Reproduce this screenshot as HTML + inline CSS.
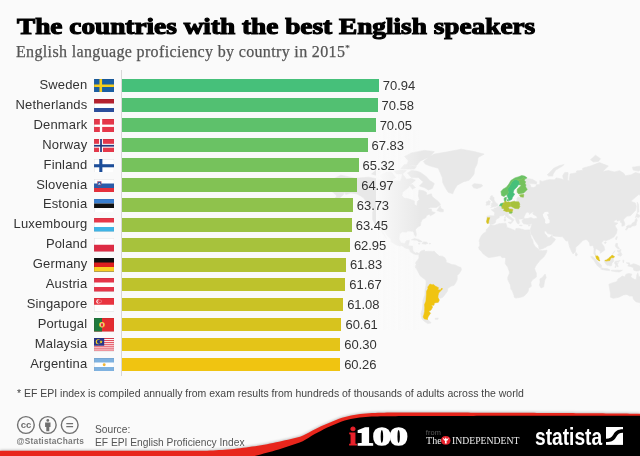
<!DOCTYPE html>
<html><head><meta charset="utf-8"><title>The countries with the best English speakers</title>
<style>
html,body{margin:0;padding:0;}
body{width:640px;height:456px;position:relative;overflow:hidden;background:#fafafa;font-family:"Liberation Sans",sans-serif;}
.title{position:absolute;left:17px;top:12.4px;font-family:"Liberation Serif",serif;font-weight:bold;font-size:22.4px;line-height:30px;color:#000;white-space:nowrap;-webkit-text-stroke:1.1px #000;transform-origin:0 0;transform:scaleX(1.218);}
.sub{position:absolute;-webkit-text-stroke:0.25px #555;left:16px;top:38px;letter-spacing:0.35px;font-family:"Liberation Serif",serif;font-size:16px;line-height:20px;color:#555;white-space:nowrap;transform-origin:0 0;}
.lab{position:absolute;left:0;width:87.3px;letter-spacing:0.15px;text-align:right;font-size:13px;line-height:18px;color:#333;white-space:nowrap;}
.val{position:absolute;letter-spacing:-0.05px;font-size:13px;line-height:18px;color:#333;white-space:nowrap;}
.bar{position:absolute;left:122.0px;height:13.7px;}
.flag{position:absolute;left:93.8px;}
.axis{position:absolute;left:120.7px;top:70px;width:1px;height:306px;background:#d8d8d8;}
.note{position:absolute;left:17px;top:386.1px;font-size:11.6px;line-height:14px;color:#444;white-space:nowrap;transform-origin:0 0;transform:scaleX(0.904);}
.i100{position:absolute;left:349.0px;top:422.1px;font-family:"Liberation Serif",serif;font-weight:bold;font-size:24.4px;line-height:30px;color:#fff;white-space:nowrap;-webkit-text-stroke:0.8px currentColor;transform-origin:0 0;transform:scaleX(1.46);letter-spacing:-0.6px;}
.i100 span{-webkit-text-stroke:1px #e8212b;}
.statista{position:absolute;left:535.2px;top:422.6px;font-weight:bold;font-size:23.5px;line-height:28px;color:#fff;white-space:nowrap;transform-origin:0 0;transform:scaleX(0.815);}
.wrap{position:absolute;left:0;top:0;width:640px;height:456px;will-change:transform;}
</style></head><body><div class="wrap">
<svg class="map" style="position:absolute;left:0;top:0" width="640" height="456" viewBox="0 0 640 456">
<defs><linearGradient id="fade" x1="0" x2="1" y1="0" y2="0"><stop offset="0" stop-color="#fafafa" stop-opacity="1"/><stop offset="1" stop-color="#fafafa" stop-opacity="0"/></linearGradient></defs>
<path d="M423.4 161.5L428.3 157.5L434.3 154.1L446.2 152.1L461.2 149.2L474.1 151.6L484.1 154.1L478.1 157.5L477.1 164.1L474.6 169.1L474.1 173.9L472.1 176.7L469.1 180.2L463.2 181.9L457.2 185.2L454.2 190.0L452.7 193.8L448.2 192.3L445.3 187.6L442.8 182.7L442.3 177.6L438.3 168.2L430.3 166.1L425.4 164.1ZM472.1 185.2L474.1 183.7L478.1 184.1L481.6 184.4L482.6 186.0L481.1 187.1L477.1 188.6L473.6 187.8ZM416.4 171.1L420.4 172.4L426.4 176.7L429.3 180.2L434.3 183.6L432.3 188.4L428.3 190.0L424.4 187.6L419.4 186.0L423.4 181.9L418.4 177.6L411.4 177.6L407.4 173.0L411.4 170.5ZM406.4 165.1L416.4 165.5L420.4 160.9L430.3 156.4L434.3 151.6L424.4 150.4L411.4 152.9L404.5 156.4L408.4 160.9ZM379.6 175.8L386.6 172.0L391.5 172.0L395.5 177.6L391.5 180.2L383.6 180.2ZM371.6 173.9L376.6 169.5L380.6 172.0L376.6 175.4ZM400.5 169.1L414.4 169.1L416.4 166.5L404.5 164.5ZM396.5 173.9L402.5 173.9L406.4 170.5L400.5 170.1L394.5 171.1ZM380.6 168.2L388.5 168.2L391.5 166.1L386.6 165.1L379.6 166.1ZM409.4 185.2L412.4 189.2L415.4 187.6L412.4 184.4ZM437.0 210.6L440.3 205.7L440.8 208.3L443.3 209.6L443.3 211.8L440.3 211.7ZM411.4 239.8L414.4 238.5L418.4 239.4L422.2 241.6L418.9 241.9L416.9 240.2L412.4 240.0ZM421.9 243.5L423.6 241.9L426.4 242.1L427.9 243.3L425.4 244.2ZM418.1 243.5L420.1 243.6L419.4 244.1ZM429.1 243.4L430.6 243.5L430.3 244.0L429.1 243.9ZM328.8 185.2L330.8 180.2L340.8 175.2L355.7 178.3L368.6 177.2L379.6 179.3L388.5 181.0L400.5 181.0L402.5 173.9L406.4 179.3L411.4 178.4L415.4 180.2L410.4 184.4L408.4 187.6L402.5 192.3L402.0 195.7L404.0 198.1L408.4 198.8L414.4 200.9L414.4 204.3L416.9 206.1L417.4 201.6L419.4 199.5L418.4 196.0L418.9 190.0L423.4 190.7L426.4 192.3L426.8 195.2L431.3 193.8L432.3 196.7L434.8 198.8L438.3 201.6L440.5 204.3L439.3 205.7L436.3 207.4L430.3 207.4L427.8 208.9L431.3 208.9L431.8 211.5L435.3 212.7L432.8 214.4L430.3 215.8L429.3 214.0L426.4 215.8L425.9 217.6L422.4 219.4L420.9 222.3L420.4 225.7L417.9 227.0L415.4 229.6L416.4 234.5L415.9 236.4L414.4 235.0L413.7 232.3L412.4 231.2L407.4 231.0L406.4 232.3L402.5 231.8L399.5 233.9L399.0 239.2L401.0 243.1L405.0 243.4L406.0 240.8L409.4 240.3L408.4 245.9L412.4 246.1L413.1 251.0L415.4 253.0L416.9 252.5L419.1 253.5L418.4 254.5L416.4 254.7L413.4 253.7L410.6 252.0L408.9 249.0L405.0 248.0L402.0 245.7L399.5 246.1L395.5 244.6L391.0 241.8L391.0 239.2L387.5 236.1L384.1 231.2L381.9 229.6L384.6 234.5L386.6 238.7L384.6 236.6L381.6 231.8L379.6 228.5L376.1 226.3L374.6 223.4L372.6 219.6L372.6 212.7L373.6 209.6L371.6 207.6L368.6 205.0L366.2 201.6L363.7 198.1L360.7 196.0L356.7 193.8L350.7 193.0L345.8 194.5L344.8 192.3L342.8 195.2L338.8 198.8L332.8 201.3L336.8 196.0L334.8 193.8L330.8 190.7L332.3 188.9L335.8 186.8L330.3 186.5ZM419.1 253.5L420.9 251.2L424.4 250.0L424.9 251.5L428.3 251.3L432.3 251.4L434.3 251.3L436.3 253.5L439.3 256.0L442.3 256.2L444.8 257.7L446.2 260.5L446.2 262.5L448.2 263.0L451.7 264.5L455.2 264.9L458.7 266.8L461.0 267.5L461.4 270.0L459.2 273.5L457.2 275.5L457.2 279.6L455.7 282.7L454.2 285.2L451.2 286.1L447.7 288.5L447.5 291.1L444.3 295.5L442.8 297.2L440.3 298.2L437.9 297.2L439.3 300.0L438.3 302.3L434.3 302.9L434.0 305.2L431.3 305.2L432.6 307.0L431.0 310.0L428.8 311.3L430.5 313.2L428.3 316.4L427.3 319.0L427.9 319.5L431.1 322.9L427.7 323.6L424.9 321.7L421.9 319.0L420.9 313.8L422.4 308.8L422.9 304.0L422.9 300.6L424.9 295.0L425.0 290.6L426.0 285.3L426.1 280.6L424.4 279.1L420.4 276.0L418.9 273.5L416.9 269.5L415.1 267.0L416.1 264.5L415.5 263.0L416.4 261.2L417.6 260.2L418.9 258.0L418.9 255.0ZM490.1 224.8L494.0 225.5L499.0 223.7L505.9 223.2L506.9 226.8L505.9 227.0L510.9 228.7L515.4 230.7L515.9 228.5L518.9 228.4L524.9 230.1L528.3 229.9L530.0 229.9L529.8 231.8L531.3 237.7L533.0 240.8L533.3 243.4L535.3 246.7L538.8 249.5L539.1 250.5L542.8 250.8L546.9 250.2L546.5 252.5L543.8 257.0L539.8 260.5L537.3 263.8L535.3 266.7L534.6 268.5L535.3 271.0L536.3 273.0L536.4 277.0L532.8 279.6L530.8 282.2L531.3 286.3L528.6 288.5L528.3 291.1L526.3 293.9L523.4 296.6L520.9 297.2L515.9 298.1L514.2 297.2L513.9 295.0L512.4 291.1L510.9 289.0L510.4 284.8L507.9 280.1L507.7 277.5L509.6 273.0L508.9 270.5L507.9 267.5L505.2 263.5L505.5 261.0L505.7 258.5L504.5 257.5L502.0 257.7L500.5 255.7L497.0 256.2L493.0 257.0L488.5 257.6L485.1 255.3L482.8 253.5L481.1 251.0L479.3 249.5L478.6 247.3L479.8 245.4L479.6 242.4L479.1 240.8L480.3 237.7L481.6 235.3L483.2 233.5L486.1 231.8L486.3 229.6L489.0 227.0ZM545.1 274.0L546.2 277.5L544.8 280.1L543.6 286.9L541.0 287.9L539.4 285.3L540.1 282.2L539.8 279.1L542.3 277.5ZM487.1 223.4L486.5 221.5L487.2 218.8L486.8 216.4L490.0 215.7L494.2 215.9L494.8 212.7L491.3 209.7L494.5 209.3L494.2 208.0L496.2 208.0L497.7 206.5L499.5 205.7L500.5 203.7L503.0 202.9L504.7 202.4L504.2 200.2L504.2 198.1L506.4 197.1L506.2 199.5L505.7 200.9L506.9 202.3L508.4 201.8L510.1 202.3L514.4 201.2L515.7 201.8L516.9 200.2L516.9 198.1L518.4 197.1L520.2 197.8L520.3 196.1L519.4 195.0L521.9 194.4L523.9 194.5L526.0 193.8L524.4 193.0L520.9 193.5L518.7 193.9L517.2 192.3L517.2 189.2L520.4 186.3L521.2 185.2L518.4 184.7L517.2 186.8L513.9 190.0L513.1 192.7L514.7 194.1L512.4 197.4L511.9 199.3L510.2 200.2L508.8 200.4L508.6 199.1L507.1 196.0L506.4 194.5L504.0 196.6L501.6 195.4L501.0 191.5L503.0 189.2L506.4 187.3L508.9 184.1L510.9 180.5L514.9 177.9L518.9 176.7L521.7 175.6L524.4 176.1L526.8 177.6L526.6 178.3L528.8 178.8L532.3 179.3L536.8 181.9L536.3 183.9L530.8 183.6L528.8 183.2L530.5 185.2L530.6 187.0L533.3 187.6L535.8 186.7L536.3 184.7L539.8 184.4L539.8 180.5L542.3 181.4L548.7 179.7L554.7 179.8L556.2 177.9L561.7 179.0L563.7 180.2L562.7 175.8L564.7 172.4L568.1 172.6L567.6 180.2L569.1 181.0L570.1 173.9L572.6 173.5L576.1 173.0L576.6 170.9L582.6 170.3L582.6 168.2L590.5 166.1L599.5 162.6L608.4 166.1L602.5 171.5L608.4 170.5L614.4 172.0L619.4 170.7L623.4 173.0L625.4 175.8L631.3 174.8L635.3 172.6L645.2 174.8L655.2 178.1L657.2 178.3L665.1 177.9L666.1 177.6L675.1 179.3L675.1 186.0L673.6 186.8L672.1 190.0L665.6 193.8L659.2 194.1L658.2 196.7L657.2 201.2L652.2 206.3L651.2 203.0L650.7 198.1L655.2 193.0L658.2 190.0L654.2 191.2L650.2 194.8L646.2 194.5L638.3 194.8L630.8 201.3L635.3 203.0L636.3 206.3L635.6 210.2L633.3 212.7L630.3 215.8L627.3 216.1L625.4 217.6L623.4 220.0L624.8 223.4L624.4 225.5L621.9 226.3L621.9 222.9L620.4 222.3L620.4 220.3L616.9 221.1L617.2 218.9L614.4 220.9L613.4 222.3L617.9 223.1L614.9 225.7L617.2 229.6L616.4 233.4L613.9 237.0L609.4 239.4L605.5 240.8L604.0 240.1L601.5 242.9L604.0 246.5L604.8 250.0L602.0 252.0L600.3 253.3L600.5 251.5L598.0 249.7L596.0 248.5L595.0 252.0L596.0 255.0L599.0 258.0L599.7 260.6L598.9 260.7L596.5 259.0L595.8 256.0L593.8 253.7L594.1 249.0L593.0 245.4L590.0 245.9L589.5 242.9L587.5 240.3L586.0 239.4L582.6 240.5L581.6 241.8L578.1 245.4L575.8 247.0L575.6 250.0L575.3 251.7L573.1 254.0L571.6 251.5L569.6 247.0L568.6 242.9L568.2 240.8L566.1 241.0L564.7 239.3L562.7 236.8L557.7 236.4L553.2 236.0L552.2 234.5L547.7 233.6L545.8 231.0L544.3 231.2L544.5 233.1L545.8 235.0L547.0 235.8L547.3 237.4L549.7 237.4L552.0 235.3L552.3 237.1L555.5 239.2L554.2 241.3L550.7 244.9L547.7 245.9L544.3 248.0L540.8 249.2L539.1 249.4L538.5 245.6L534.8 240.3L532.8 236.6L530.8 233.4L530.6 231.8L530.0 229.9L530.8 227.9L531.8 224.6L532.0 223.8L528.8 224.5L526.3 224.2L523.9 223.8L523.2 223.4L522.2 221.7L522.1 220.5L522.9 219.5L524.9 218.7L527.3 218.5L530.8 217.6L533.8 218.8L537.3 218.2L536.8 216.4L532.8 214.0L533.8 211.5L530.8 213.1L529.3 214.4L529.4 212.7L526.8 212.0L525.6 213.7L523.9 217.0L524.4 218.5L522.2 218.9L519.9 219.1L518.7 219.6L519.4 222.3L518.9 224.0L517.4 223.4L515.9 220.5L515.2 217.8L512.9 216.4L510.9 214.6L509.5 213.2L508.2 213.6L508.4 215.2L511.4 217.6L514.3 219.7L512.9 221.1L512.4 222.3L511.6 222.3L511.9 220.2L508.4 218.2L506.4 216.4L504.8 214.7L503.0 215.7L499.2 216.1L499.2 217.7L496.5 219.1L495.7 220.8L495.5 222.3L494.0 223.8L490.7 224.5L489.7 223.7L488.5 223.2ZM490.5 207.6L493.0 206.9L497.3 206.1L497.7 204.1L496.0 203.0L494.5 200.9L494.0 199.5L494.0 197.3L492.0 197.1L492.8 195.8L491.0 195.8L489.8 198.8L491.0 200.2L492.5 201.2L493.0 203.0L491.5 203.4L491.8 204.7L490.8 205.3L492.5 205.8ZM486.1 205.3L489.7 204.7L490.0 202.3L490.5 201.5L488.7 200.5L487.5 201.6L486.1 202.0L486.5 203.7ZM504.3 221.1L505.7 220.9L505.6 218.8L504.2 218.9ZM504.7 218.2L505.5 217.6L505.4 216.4L504.6 217.0ZM508.4 222.3L511.4 222.0L511.0 223.8L508.4 222.7ZM519.5 225.1L522.2 225.4L522.1 225.8L519.5 225.6ZM528.1 225.7L530.3 225.0L529.6 226.0ZM506.9 199.8L508.4 199.5L508.4 200.9L507.1 200.7ZM625.4 229.8L627.1 227.4L626.1 226.9L627.8 225.4L631.3 224.9L632.3 223.1L634.8 221.7L635.3 219.4L636.6 218.3L637.2 220.5L636.3 222.9L636.1 225.1L635.0 225.7L632.3 226.1L630.8 227.4L628.3 227.4L626.8 229.8ZM635.3 217.8L636.8 213.5L640.6 215.8L638.6 217.6L636.3 217.0ZM637.3 212.7L637.3 202.3L638.5 204.3L638.6 208.3L638.8 211.8ZM615.6 238.7L616.9 236.4L617.3 237.1L616.2 239.8ZM604.2 242.6L605.9 241.8L606.4 242.4L605.0 243.7ZM575.4 254.0L575.9 252.3L577.4 254.5L576.6 255.9L575.6 255.8ZM615.9 243.4L617.6 243.5L617.4 245.9L619.4 248.2L619.2 249.2L617.2 248.2L616.2 247.5L615.4 245.9ZM617.4 255.0L618.9 253.4L620.9 252.3L621.9 254.5L620.9 256.2L619.4 255.7ZM617.4 250.2L618.6 250.5L620.9 249.5L620.7 251.5L618.9 252.5L617.6 251.7ZM612.7 253.5L614.9 250.7L615.0 251.2L613.0 253.6ZM590.8 256.4L593.0 256.8L596.0 259.7L599.0 262.8L601.5 265.2L601.3 267.8L600.0 267.8L597.5 265.8L595.5 263.0L594.0 260.2L591.5 258.0ZM600.7 268.8L602.0 268.0L604.0 268.6L606.4 268.5L608.4 269.0L609.9 269.8L609.7 270.6L606.4 270.3L603.5 269.8L601.9 269.4ZM604.5 260.2L606.4 260.5L606.8 259.5L608.4 258.7L609.4 257.4L610.9 256.5L612.1 255.0L613.1 255.7L614.6 256.8L613.4 257.7L613.1 259.0L613.9 261.0L612.9 262.0L611.9 263.5L611.7 265.5L609.9 266.0L608.4 265.2L606.9 265.3L605.5 263.5L604.5 262.0ZM614.9 267.5L615.9 265.0L614.4 263.0L615.4 261.2L617.4 261.0L620.2 260.5L618.4 261.7L616.2 262.0L616.9 263.0L618.6 262.8L617.2 264.0L617.9 265.5L618.2 266.8L616.9 266.5L616.4 264.8L615.7 267.5ZM626.3 262.8L629.3 262.8L630.3 265.3L633.3 263.7L636.3 264.6L640.3 266.3L642.8 268.0L641.3 268.8L643.3 270.0L645.7 272.5L642.8 272.0L640.3 269.8L638.3 271.0L636.3 271.0L633.8 270.2L633.3 267.5L630.3 266.4L627.8 266.0L628.8 264.3ZM611.4 270.4L614.4 270.2L618.4 270.3L620.4 270.3L622.4 270.3L619.4 272.0L615.4 271.6L611.4 270.9ZM622.9 260.0L623.9 260.5L623.4 262.8L622.9 261.5ZM608.9 284.2L609.6 288.5L610.4 292.8L610.4 297.2L613.4 298.3L618.9 297.2L623.4 295.0L626.8 294.4L629.8 296.1L632.8 296.1L633.3 298.9L635.8 301.7L638.8 302.6L641.8 302.9L645.2 301.1L646.4 297.2L648.2 292.8L648.4 288.5L646.2 285.8L644.3 282.7L641.6 281.1L640.8 277.0L638.8 276.5L637.8 272.8L636.8 275.0L636.3 279.6L634.8 279.6L632.3 278.1L630.8 276.8L631.8 274.0L628.3 273.5L625.8 274.5L624.9 277.0L622.4 276.0L620.4 277.5L617.9 279.1L616.9 281.6L612.4 282.9ZM640.3 305.0L643.3 305.1L643.3 307.6L641.8 308.2L640.5 306.8ZM547.2 174.8L550.7 171.5L553.7 168.2L559.7 165.5L564.2 164.5L561.7 166.5L555.7 170.1L553.2 173.9L552.7 176.1L548.7 176.1ZM590.5 159.8L595.5 155.2L600.5 158.7L598.5 161.3L593.5 162.0ZM632.3 167.2L640.3 166.1L645.2 167.8L638.3 171.1L633.3 170.1ZM435.3 318.3L438.3 318.1L437.8 319.3L435.3 319.3Z" fill="#e8e8e8" stroke="#e8e8e8" stroke-width="0.6" stroke-linejoin="round"/>
<path d="M544.8 212.1L548.2 211.7L548.7 214.0L546.7 214.6L548.5 217.0L548.2 218.8L549.7 220.0L549.5 223.1L546.7 223.7L545.0 222.9L545.3 220.0L543.3 216.6L542.8 214.6Z" fill="#fafafa"/>
<path d="M507.0 195.2L507.4 196.4L508.6 199.3L508.8 200.4L510.2 200.2L511.9 199.3L512.4 197.4L514.7 194.1L513.1 192.7L513.9 190.0L517.2 186.8L518.4 184.7L520.0 184.7L519.4 181.4L516.4 179.3L513.9 180.2L511.9 181.9L510.4 184.4L509.4 186.8L507.9 188.4L508.1 191.5L508.6 192.3L507.7 194.1Z" fill="#46c07a" stroke="#46c07a" stroke-width="0.5" stroke-linejoin="round"/>
<path d="M504.0 196.6L501.6 195.4L501.0 191.5L503.0 189.2L506.4 187.3L508.9 184.1L510.9 180.5L514.9 177.9L518.9 176.7L521.7 175.6L524.4 176.1L526.8 177.6L526.6 178.3L524.9 179.0L523.4 177.6L521.4 179.3L519.4 179.7L516.9 179.1L516.4 179.3L513.9 180.2L511.9 181.9L510.4 184.4L509.4 186.8L507.9 188.4L508.1 191.5L508.6 192.3L507.7 194.1L507.0 195.2L506.4 194.5Z" fill="#6ac264" stroke="#6ac264" stroke-width="0.5" stroke-linejoin="round"/>
<path d="M517.2 192.3L517.2 189.2L520.4 186.3L521.2 185.2L520.0 184.7L519.4 181.4L516.4 179.3L516.9 179.1L519.4 179.7L521.4 179.3L523.4 177.6L524.9 179.0L524.4 180.7L525.9 181.9L524.9 183.1L525.9 184.9L525.6 186.8L527.3 189.5L523.7 193.0L520.9 193.5L518.7 193.9Z" fill="#76c25c" stroke="#76c25c" stroke-width="0.5" stroke-linejoin="round"/>
<path d="M504.2 200.2L504.2 198.1L506.4 197.1L506.2 199.5L505.7 200.9L504.7 201.1ZM506.9 199.8L508.4 199.5L508.4 200.9L507.1 200.7Z" fill="#5ec16b" stroke="#5ec16b" stroke-width="0.5" stroke-linejoin="round"/>
<path d="M499.5 205.8L500.5 203.7L503.0 203.0L503.2 204.6L502.0 205.3L502.0 206.6L501.0 205.8Z" fill="#52c072" stroke="#52c072" stroke-width="0.5" stroke-linejoin="round"/>
<path d="M503.0 203.0L504.7 202.4L504.7 201.1L505.7 200.9L506.9 202.3L508.4 201.8L510.1 202.3L510.6 204.3L510.9 206.3L508.1 207.2L509.7 209.3L508.9 210.8L506.1 211.1L503.6 210.7L504.2 208.9L502.4 208.3L502.0 206.6L502.0 205.3L503.2 204.6Z" fill="#b2c234" stroke="#b2c234" stroke-width="0.5" stroke-linejoin="round"/>
<path d="M510.1 202.3L514.4 201.2L515.7 201.8L518.7 201.8L519.8 204.1L519.5 205.7L519.9 206.6L518.6 208.8L514.9 208.4L510.9 206.3L510.6 204.3Z" fill="#a7c23c" stroke="#a7c23c" stroke-width="0.5" stroke-linejoin="round"/>
<path d="M505.6 210.8L506.1 211.1L508.9 210.8L509.7 209.3L510.9 208.9L512.9 209.4L512.4 211.5L511.9 211.8L509.6 212.1L508.1 211.5L506.3 211.6L505.6 211.3Z" fill="#bec22c" stroke="#bec22c" stroke-width="0.5" stroke-linejoin="round"/>
<path d="M509.6 212.1L511.9 211.8L512.4 212.2L511.6 213.3L509.5 213.3Z" fill="#82c254" stroke="#82c254" stroke-width="0.5" stroke-linejoin="round"/>
<path d="M519.4 195.0L521.9 194.4L523.9 194.5L523.4 197.3L520.3 196.8L520.3 196.1Z" fill="#8fc24c" stroke="#8fc24c" stroke-width="0.5" stroke-linejoin="round"/>
<path d="M501.8 207.5L502.4 207.9L502.3 208.3L501.8 208.3Z" fill="#9bc244" stroke="#9bc244" stroke-width="0.5" stroke-linejoin="round"/>
<path d="M487.1 223.4L486.5 221.5L487.2 218.8L487.2 217.7L489.8 217.7L489.0 220.0L488.6 222.3L488.6 223.2Z" fill="#d7c31e" stroke="#d7c31e" stroke-width="0.5" stroke-linejoin="round"/>
<path d="M595.8 255.6L596.5 256.2L597.6 255.8L598.9 257.5L599.0 259.2L599.7 260.6L598.9 260.7L596.8 259.2L596.2 258.0L595.8 256.5ZM605.1 260.0L606.4 260.5L606.8 259.5L608.4 258.7L609.4 257.4L610.9 256.5L612.1 255.0L613.1 255.7L614.6 256.8L613.4 257.7L611.2 257.7L610.4 259.0L609.9 260.5L607.9 260.8L606.4 261.1L605.1 260.7Z" fill="#e4c418" stroke="#e4c418" stroke-width="0.5" stroke-linejoin="round"/>
<path d="M599.1 260.6L599.6 260.6L599.6 260.8L599.1 260.8Z" fill="#cac225" stroke="#cac225" stroke-width="0.5" stroke-linejoin="round"/>
<path d="M430.0 284.0L432.0 284.8L433.6 284.5L435.3 286.1L438.6 287.7L437.7 289.7L440.5 290.0L441.7 288.0L442.6 289.0L440.5 290.9L438.7 293.0L438.1 295.5L437.9 297.2L439.3 300.0L438.3 302.3L434.3 302.9L434.0 305.2L431.3 305.2L432.6 307.0L431.0 310.0L428.8 311.3L430.5 313.2L428.3 316.4L427.3 319.0L427.9 319.5L424.4 319.0L423.1 317.0L423.9 314.4L424.6 311.3L424.7 307.6L424.5 304.6L425.9 301.1L426.1 297.7L426.4 294.4L426.6 291.1L427.9 288.8L427.8 286.9L429.1 285.3Z" fill="#f0c411" stroke="#f0c411" stroke-width="0.5" stroke-linejoin="round"/>
<rect x="376" y="130" width="44" height="200" fill="url(#fade)"/>
</svg>
<div class="title">The countries with the best English speakers</div>
<div class="sub">English language proficiency by country in 2015<span style="font-size:9px;vertical-align:6px">*</span></div>
<div class="axis"></div>
<div class="lab" style="top:75.90px">Sweden</div>
<svg class="flag" style="top:78.95px" viewBox="0 0 21 14" width="20.4" height="13.5"><rect width="21" height="14" fill="#1b5fa3"/><rect x="5.6" width="2.7" height="14" fill="#f7cd1d"/><rect y="5.7" width="21" height="2.6" fill="#f7cd1d"/><rect x="0.25" y="0.25" width="20.5" height="13.5" fill="none" stroke="#000" stroke-opacity="0.13" stroke-width="0.5"/></svg>
<div class="bar" style="top:78.50px;width:256.87px;background:#46c07a"></div>
<div class="val" style="top:77.10px;left:382.87px">70.94</div>
<div class="lab" style="top:95.83px">Netherlands</div>
<svg class="flag" style="top:98.88px" viewBox="0 0 21 14" width="20.4" height="13.5"><rect width="21" height="14" fill="#fff"/><rect width="21" height="4.67" fill="#b5222f"/><rect y="9.33" width="21" height="4.67" fill="#2b4e9c"/><rect x="0.25" y="0.25" width="20.5" height="13.5" fill="none" stroke="#000" stroke-opacity="0.13" stroke-width="0.5"/></svg>
<div class="bar" style="top:98.43px;width:255.57px;background:#52c072"></div>
<div class="val" style="top:97.03px;left:381.57px">70.58</div>
<div class="lab" style="top:115.76px">Denmark</div>
<svg class="flag" style="top:118.81px" viewBox="0 0 21 14" width="20.4" height="13.5"><rect width="21" height="14" fill="#e5384a"/><rect x="6" width="2.4" height="14" fill="#fff"/><rect y="5.8" width="21" height="2.4" fill="#fff"/><rect x="0.25" y="0.25" width="20.5" height="13.5" fill="none" stroke="#000" stroke-opacity="0.13" stroke-width="0.5"/></svg>
<div class="bar" style="top:118.36px;width:253.65px;background:#5ec16b"></div>
<div class="val" style="top:116.96px;left:379.65px">70.05</div>
<div class="lab" style="top:135.69px">Norway</div>
<svg class="flag" style="top:138.74px" viewBox="0 0 21 14" width="20.4" height="13.5"><rect width="21" height="14" fill="#e5384a"/><rect x="5.2" width="4" height="14" fill="#fff"/><rect y="5" width="21" height="4" fill="#fff"/><rect x="6.3" width="1.8" height="14" fill="#26397d"/><rect y="6.1" width="21" height="1.8" fill="#26397d"/><rect x="0.25" y="0.25" width="20.5" height="13.5" fill="none" stroke="#000" stroke-opacity="0.13" stroke-width="0.5"/></svg>
<div class="bar" style="top:138.29px;width:245.61px;background:#6ac264"></div>
<div class="val" style="top:136.89px;left:371.61px">67.83</div>
<div class="lab" style="top:155.62px">Finland</div>
<svg class="flag" style="top:158.67px" viewBox="0 0 21 14" width="20.4" height="13.5"><rect width="21" height="14" fill="#fff"/><rect x="5.4" width="3.2" height="14" fill="#1d4e9a"/><rect y="5.4" width="21" height="3.2" fill="#1d4e9a"/><rect x="0.25" y="0.25" width="20.5" height="13.5" fill="none" stroke="#000" stroke-opacity="0.13" stroke-width="0.5"/></svg>
<div class="bar" style="top:158.22px;width:236.52px;background:#76c25c"></div>
<div class="val" style="top:156.82px;left:362.52px">65.32</div>
<div class="lab" style="top:175.55px">Slovenia</div>
<svg class="flag" style="top:178.60px" viewBox="0 0 21 14" width="20.4" height="13.5"><rect width="21" height="14" fill="#fff"/><rect y="4.67" width="21" height="4.67" fill="#2a5caa"/><rect y="9.33" width="21" height="4.67" fill="#e5303c"/><path d="M3.6 2.6h3.8v3.2c0 1.6-1.9 2.4-1.9 2.4s-1.9-0.8-1.9-2.4z" fill="#2a5caa" stroke="#e5303c" stroke-width="0.4"/><path d="M4 5.8l1.5-1.6 1.5 1.6z" fill="#fff"/><rect x="0.25" y="0.25" width="20.5" height="13.5" fill="none" stroke="#000" stroke-opacity="0.13" stroke-width="0.5"/></svg>
<div class="bar" style="top:178.15px;width:235.26px;background:#82c254"></div>
<div class="val" style="top:176.75px;left:361.26px">64.97</div>
<div class="lab" style="top:195.48px">Estonia</div>
<svg class="flag" style="top:198.53px" viewBox="0 0 21 14" width="20.4" height="13.5"><rect width="21" height="14" fill="#fff"/><rect width="21" height="4.67" fill="#3a7fd0"/><rect y="4.67" width="21" height="4.67" fill="#111"/><rect x="0.25" y="0.25" width="20.5" height="13.5" fill="none" stroke="#000" stroke-opacity="0.13" stroke-width="0.5"/></svg>
<div class="bar" style="top:198.08px;width:230.77px;background:#8fc24c"></div>
<div class="val" style="top:196.68px;left:356.77px">63.73</div>
<div class="lab" style="top:215.41px">Luxembourg</div>
<svg class="flag" style="top:218.46px" viewBox="0 0 21 14" width="20.4" height="13.5"><rect width="21" height="14" fill="#fff"/><rect width="21" height="4.67" fill="#e8384a"/><rect y="9.33" width="21" height="4.67" fill="#3fb4e6"/><rect x="0.25" y="0.25" width="20.5" height="13.5" fill="none" stroke="#000" stroke-opacity="0.13" stroke-width="0.5"/></svg>
<div class="bar" style="top:218.01px;width:229.75px;background:#9bc244"></div>
<div class="val" style="top:216.61px;left:355.75px">63.45</div>
<div class="lab" style="top:235.34px">Poland</div>
<svg class="flag" style="top:238.39px" viewBox="0 0 21 14" width="20.4" height="13.5"><rect width="21" height="14" fill="#fff"/><rect y="7" width="21" height="7" fill="#dd2c45"/><rect x="0.25" y="0.25" width="20.5" height="13.5" fill="none" stroke="#000" stroke-opacity="0.13" stroke-width="0.5"/></svg>
<div class="bar" style="top:237.94px;width:227.94px;background:#a7c23c"></div>
<div class="val" style="top:236.54px;left:353.94px">62.95</div>
<div class="lab" style="top:255.27px">Germany</div>
<svg class="flag" style="top:258.32px" viewBox="0 0 21 14" width="20.4" height="13.5"><rect width="21" height="14" fill="#111"/><rect y="4.67" width="21" height="4.67" fill="#dd1f1f"/><rect y="9.33" width="21" height="4.67" fill="#f9cf24"/><rect x="0.25" y="0.25" width="20.5" height="13.5" fill="none" stroke="#000" stroke-opacity="0.13" stroke-width="0.5"/></svg>
<div class="bar" style="top:257.87px;width:223.89px;background:#b2c234"></div>
<div class="val" style="top:256.47px;left:349.89px">61.83</div>
<div class="lab" style="top:275.20px">Austria</div>
<svg class="flag" style="top:278.25px" viewBox="0 0 21 14" width="20.4" height="13.5"><rect width="21" height="14" fill="#fff"/><rect width="21" height="4.67" fill="#e5364a"/><rect y="9.33" width="21" height="4.67" fill="#e5364a"/><rect x="0.25" y="0.25" width="20.5" height="13.5" fill="none" stroke="#000" stroke-opacity="0.13" stroke-width="0.5"/></svg>
<div class="bar" style="top:277.80px;width:223.31px;background:#bec22c"></div>
<div class="val" style="top:276.40px;left:349.31px">61.67</div>
<div class="lab" style="top:295.13px">Singapore</div>
<svg class="flag" style="top:298.18px" viewBox="0 0 21 14" width="20.4" height="13.5"><rect width="21" height="14" fill="#fff"/><rect width="21" height="7" fill="#e9343f"/><circle cx="4.6" cy="3.5" r="2.3" fill="#fff"/><circle cx="5.6" cy="3.5" r="2.1" fill="#e9343f"/><circle cx="6.2" cy="2.2" r="0.45" fill="#fff"/><circle cx="7.6" cy="3.1" r="0.45" fill="#fff"/><circle cx="7.1" cy="4.7" r="0.45" fill="#fff"/><circle cx="5.3" cy="4.7" r="0.45" fill="#fff"/><circle cx="4.8" cy="3.1" r="0.45" fill="#fff"/><rect x="0.25" y="0.25" width="20.5" height="13.5" fill="none" stroke="#000" stroke-opacity="0.13" stroke-width="0.5"/></svg>
<div class="bar" style="top:297.73px;width:221.17px;background:#cac225"></div>
<div class="val" style="top:296.33px;left:347.17px">61.08</div>
<div class="lab" style="top:315.06px">Portugal</div>
<svg class="flag" style="top:318.11px" viewBox="0 0 21 14" width="20.4" height="13.5"><rect width="21" height="14" fill="#e32c30"/><rect width="8.2" height="14" fill="#1e7a3c"/><circle cx="8.2" cy="7" r="2.9" fill="#f5d21f"/><path d="M6.7 5.3h3v2.4c0 1-1.5 1.6-1.5 1.6s-1.5-0.6-1.5-1.6z" fill="#e32c30" stroke="#fff" stroke-width="0.5"/><rect x="0.25" y="0.25" width="20.5" height="13.5" fill="none" stroke="#000" stroke-opacity="0.13" stroke-width="0.5"/></svg>
<div class="bar" style="top:317.66px;width:219.47px;background:#d7c31e"></div>
<div class="val" style="top:316.26px;left:345.47px">60.61</div>
<div class="lab" style="top:334.99px">Malaysia</div>
<svg class="flag" style="top:338.04px" viewBox="0 0 21 14" width="20.4" height="13.5"><rect width="21" height="14" fill="#fff"/><rect y="0" width="21" height="1" fill="#e03a4a"/><rect y="2" width="21" height="1" fill="#e03a4a"/><rect y="4" width="21" height="1" fill="#e03a4a"/><rect y="6" width="21" height="1" fill="#e03a4a"/><rect y="8" width="21" height="1" fill="#e03a4a"/><rect y="10" width="21" height="1" fill="#e03a4a"/><rect y="12" width="21" height="1" fill="#e03a4a"/><rect width="10.5" height="8" fill="#28338a"/><circle cx="4.3" cy="4" r="2.6" fill="#f5d21f"/><circle cx="5.1" cy="4" r="2.2" fill="#28338a"/><polygon points="7.30,2.30 7.80,3.31 8.92,3.47 8.11,4.26 8.30,5.38 7.30,4.85 6.30,5.38 6.49,4.26 5.68,3.47 6.80,3.31" fill="#f5d21f"/><rect x="0.25" y="0.25" width="20.5" height="13.5" fill="none" stroke="#000" stroke-opacity="0.13" stroke-width="0.5"/></svg>
<div class="bar" style="top:337.59px;width:218.35px;background:#e4c418"></div>
<div class="val" style="top:336.19px;left:344.35px">60.30</div>
<div class="lab" style="top:354.92px">Argentina</div>
<svg class="flag" style="top:357.97px" viewBox="0 0 21 14" width="20.4" height="13.5"><rect width="21" height="14" fill="#fff"/><rect width="21" height="4.67" fill="#7fb2e0"/><rect y="9.33" width="21" height="4.67" fill="#7fb2e0"/><circle cx="10.5" cy="7" r="1.5" fill="#f2b634"/><rect x="0.25" y="0.25" width="20.5" height="13.5" fill="none" stroke="#000" stroke-opacity="0.13" stroke-width="0.5"/></svg>
<div class="bar" style="top:357.52px;width:218.20px;background:#f0c411"></div>
<div class="val" style="top:356.12px;left:344.20px">60.26</div>
<div class="note">* EF EPI index is compiled annually from exam results from hundreds of thousands of adults across the world</div>
<svg style="position:absolute;left:0;top:396px" width="640" height="60" viewBox="0 396 640 60">
<defs><filter id="ds" x="-5%" y="-30%" width="110%" height="160%"><feGaussianBlur stdDeviation="1.6"/></filter></defs>
<path d="M0 456L0.0 450.80L3.0 450.80L6.0 450.80L9.0 450.80L12.0 450.80L15.0 450.80L18.0 450.80L21.0 450.80L24.0 450.80L27.0 450.80L30.0 450.80L33.0 450.80L36.0 450.80L39.0 450.80L42.0 450.80L45.0 450.80L48.0 450.80L51.0 450.80L54.0 450.80L57.0 450.80L60.0 450.80L63.0 450.80L66.0 450.80L69.0 450.80L72.0 450.80L75.0 450.80L78.0 450.80L81.0 450.80L84.0 450.80L87.0 450.80L90.0 450.80L93.0 450.80L96.0 450.80L99.0 450.80L102.0 450.80L105.0 450.80L108.0 450.80L111.0 450.80L114.0 450.80L117.0 450.80L120.0 450.80L123.0 450.80L126.0 450.80L129.0 450.80L132.0 450.80L135.0 450.80L138.0 450.80L141.0 450.80L144.0 450.80L147.0 450.80L150.0 450.80L153.0 450.80L156.0 450.80L159.0 450.80L162.0 450.80L165.0 450.80L168.0 450.80L171.0 450.80L174.0 450.80L177.0 450.80L180.0 450.80L183.0 450.80L186.0 450.80L189.0 450.80L192.0 450.80L195.0 450.80L198.0 450.80L201.0 450.80L204.0 450.75L207.0 450.65L210.0 450.53L213.0 450.39L216.0 450.25L219.0 450.09L222.0 449.90L225.0 449.69L228.0 449.45L231.0 449.20L234.0 448.91L237.0 448.58L240.0 448.22L243.0 447.83L246.0 447.43L249.0 447.03L252.0 446.62L255.0 446.19L258.0 445.73L261.0 445.25L264.0 444.74L267.0 444.18L270.0 443.58L273.0 442.96L276.0 442.33L279.0 441.69L282.0 441.03L285.0 440.36L288.0 439.67L291.0 438.96L294.0 438.24L297.0 437.53L300.0 436.70L303.0 435.53L306.0 434.06L309.0 432.42L312.0 430.75L315.0 429.19L318.0 427.77L321.0 426.36L324.0 424.99L327.0 423.66L330.0 422.40L333.0 421.21L336.0 420.01L339.0 418.86L342.0 417.79L345.0 416.88L348.0 416.15L351.0 415.51L354.0 414.93L357.0 414.43L360.0 414.01L363.0 413.71L366.0 413.45L369.0 413.23L372.0 413.04L375.0 412.90L378.0 412.80L381.0 412.73L384.0 412.67L387.0 412.62L390.0 412.57L393.0 412.54L396.0 412.51L399.0 412.50L402.0 412.50L405.0 412.50L408.0 412.50L411.0 412.50L414.0 412.51L417.0 412.51L420.0 412.51L423.0 412.51L426.0 412.52L429.0 412.52L432.0 412.53L435.0 412.53L438.0 412.54L441.0 412.55L444.0 412.55L447.0 412.56L450.0 412.57L453.0 412.57L456.0 412.58L459.0 412.59L462.0 412.60L465.0 412.61L468.0 412.62L471.0 412.63L474.0 412.64L477.0 412.65L480.0 412.66L483.0 412.67L486.0 412.68L489.0 412.69L492.0 412.70L495.0 412.71L498.0 412.72L501.0 412.73L504.0 412.75L507.0 412.76L510.0 412.77L513.0 412.78L516.0 412.80L519.0 412.81L522.0 412.82L525.0 412.83L528.0 412.85L531.0 412.86L534.0 412.87L537.0 412.89L540.0 412.90L543.0 412.91L546.0 412.93L549.0 412.94L552.0 412.96L555.0 412.98L558.0 413.00L561.0 413.02L564.0 413.04L567.0 413.06L570.0 413.08L573.0 413.10L576.0 413.13L579.0 413.15L582.0 413.17L585.0 413.20L588.0 413.23L591.0 413.25L594.0 413.28L597.0 413.31L600.0 413.34L603.0 413.37L606.0 413.39L609.0 413.42L612.0 413.45L615.0 413.49L618.0 413.52L621.0 413.55L624.0 413.58L627.0 413.61L630.0 413.64L633.0 413.67L636.0 413.71L639.0 413.74L640.0 413.75L640 456Z" fill="#000" opacity="0.28" filter="url(#ds)" transform="translate(0,-0.5)"/>
<path d="M0 456L0.0 450.80L3.0 450.80L6.0 450.80L9.0 450.80L12.0 450.80L15.0 450.80L18.0 450.80L21.0 450.80L24.0 450.80L27.0 450.80L30.0 450.80L33.0 450.80L36.0 450.80L39.0 450.80L42.0 450.80L45.0 450.80L48.0 450.80L51.0 450.80L54.0 450.80L57.0 450.80L60.0 450.80L63.0 450.80L66.0 450.80L69.0 450.80L72.0 450.80L75.0 450.80L78.0 450.80L81.0 450.80L84.0 450.80L87.0 450.80L90.0 450.80L93.0 450.80L96.0 450.80L99.0 450.80L102.0 450.80L105.0 450.80L108.0 450.80L111.0 450.80L114.0 450.80L117.0 450.80L120.0 450.80L123.0 450.80L126.0 450.80L129.0 450.80L132.0 450.80L135.0 450.80L138.0 450.80L141.0 450.80L144.0 450.80L147.0 450.80L150.0 450.80L153.0 450.80L156.0 450.80L159.0 450.80L162.0 450.80L165.0 450.80L168.0 450.80L171.0 450.80L174.0 450.80L177.0 450.80L180.0 450.80L183.0 450.80L186.0 450.80L189.0 450.80L192.0 450.80L195.0 450.80L198.0 450.80L201.0 450.80L204.0 450.75L207.0 450.65L210.0 450.53L213.0 450.39L216.0 450.25L219.0 450.09L222.0 449.90L225.0 449.69L228.0 449.45L231.0 449.20L234.0 448.91L237.0 448.58L240.0 448.22L243.0 447.83L246.0 447.43L249.0 447.03L252.0 446.62L255.0 446.19L258.0 445.73L261.0 445.25L264.0 444.74L267.0 444.18L270.0 443.58L273.0 442.96L276.0 442.33L279.0 441.69L282.0 441.03L285.0 440.36L288.0 439.67L291.0 438.96L294.0 438.24L297.0 437.53L300.0 436.70L303.0 435.53L306.0 434.06L309.0 432.42L312.0 430.75L315.0 429.19L318.0 427.77L321.0 426.36L324.0 424.99L327.0 423.66L330.0 422.40L333.0 421.21L336.0 420.01L339.0 418.86L342.0 417.79L345.0 416.88L348.0 416.15L351.0 415.51L354.0 414.93L357.0 414.43L360.0 414.01L363.0 413.71L366.0 413.45L369.0 413.23L372.0 413.04L375.0 412.90L378.0 412.80L381.0 412.73L384.0 412.67L387.0 412.62L390.0 412.57L393.0 412.54L396.0 412.51L399.0 412.50L402.0 412.50L405.0 412.50L408.0 412.50L411.0 412.50L414.0 412.51L417.0 412.51L420.0 412.51L423.0 412.51L426.0 412.52L429.0 412.52L432.0 412.53L435.0 412.53L438.0 412.54L441.0 412.55L444.0 412.55L447.0 412.56L450.0 412.57L453.0 412.57L456.0 412.58L459.0 412.59L462.0 412.60L465.0 412.61L468.0 412.62L471.0 412.63L474.0 412.64L477.0 412.65L480.0 412.66L483.0 412.67L486.0 412.68L489.0 412.69L492.0 412.70L495.0 412.71L498.0 412.72L501.0 412.73L504.0 412.75L507.0 412.76L510.0 412.77L513.0 412.78L516.0 412.80L519.0 412.81L522.0 412.82L525.0 412.83L528.0 412.85L531.0 412.86L534.0 412.87L537.0 412.89L540.0 412.90L543.0 412.91L546.0 412.93L549.0 412.94L552.0 412.96L555.0 412.98L558.0 413.00L561.0 413.02L564.0 413.04L567.0 413.06L570.0 413.08L573.0 413.10L576.0 413.13L579.0 413.15L582.0 413.17L585.0 413.20L588.0 413.23L591.0 413.25L594.0 413.28L597.0 413.31L600.0 413.34L603.0 413.37L606.0 413.39L609.0 413.42L612.0 413.45L615.0 413.49L618.0 413.52L621.0 413.55L624.0 413.58L627.0 413.61L630.0 413.64L633.0 413.67L636.0 413.71L639.0 413.74L640.0 413.75L640 456Z" fill="#e8261c"/>
<path d="M254.7 456.00L257.7 455.19L260.7 454.39L263.7 453.58L266.7 452.79L269.7 452.00L272.7 451.20L275.7 450.37L278.7 449.49L281.7 448.55L284.7 447.55L287.7 446.53L290.7 445.51L293.7 444.52L296.7 443.61L299.7 442.62L302.7 441.27L305.7 439.60L308.7 437.75L311.7 435.87L314.7 434.09L317.7 432.48L320.7 430.90L323.7 429.35L326.7 427.87L329.7 426.48L332.7 425.18L335.7 423.91L338.7 422.69L341.7 421.57L344.7 420.59L347.7 419.81L350.7 419.11L353.7 418.48L356.7 417.93L359.7 417.49L362.7 417.18L365.7 416.96L368.7 416.77L371.7 416.62L374.7 416.49L377.7 416.41L380.7 416.34L383.7 416.28L386.7 416.23L389.7 416.19L392.7 416.15L395.7 416.13L398.7 416.11L401.7 416.09L404.7 416.08L407.7 416.07L410.7 416.06L413.7 416.05L416.7 416.04L419.7 416.03L422.7 416.02L425.7 416.01L428.7 416.00L431.7 415.99L434.7 415.98L437.7 415.97L440.7 415.96L443.7 415.95L446.7 415.95L449.7 415.94L452.7 415.93L455.7 415.92L458.7 415.91L461.7 415.91L464.7 415.90L467.7 415.89L470.7 415.88L473.7 415.88L476.7 415.87L479.7 415.86L482.7 415.86L485.7 415.85L488.7 415.84L491.7 415.84L494.7 415.83L497.7 415.82L500.7 415.82L503.7 415.81L506.7 415.81L509.7 415.80L512.7 415.80L515.7 415.79L518.7 415.79L521.7 415.78L524.7 415.78L527.7 415.77L530.7 415.77L533.7 415.77L536.7 415.76L539.7 415.76L542.7 415.75L545.7 415.75L548.7 415.75L551.7 415.74L554.7 415.74L557.7 415.74L560.7 415.74L563.7 415.73L566.7 415.73L569.7 415.73L572.7 415.73L575.7 415.72L578.7 415.72L581.7 415.72L584.7 415.72L587.7 415.71L590.7 415.71L593.7 415.71L596.7 415.71L599.7 415.71L602.7 415.71L605.7 415.71L608.7 415.71L611.7 415.70L614.7 415.70L617.7 415.70L620.7 415.70L623.7 415.70L626.7 415.70L629.7 415.70L632.7 415.70L635.7 415.70L638.7 415.70L640.0 415.70L640 456L254.7 456Z" fill="#000"/>
</svg>
<svg style="position:absolute;left:14px;top:413px" width="70" height="24" viewBox="0 0 70 24" fill="none" stroke="#707070" stroke-width="1.4">
<circle cx="11.9" cy="12" r="8.35"/><circle cx="33.8" cy="12" r="8.35"/><circle cx="55.7" cy="12" r="8.35"/>
<text x="11.9" y="15" text-anchor="middle" font-family="Liberation Sans, sans-serif" font-weight="bold" font-size="9.6" letter-spacing="-0.3" fill="#707070" stroke="none">cc</text>
<circle cx="33.8" cy="7.4" r="1.4" fill="#707070" stroke="none"/><path d="M31.1 9.6h5.4v4.3h-1.2v4.3h-3v-4.3h-1.2z" fill="#707070" stroke="none"/>
<path d="M52.3 10.6h6.8M52.3 13.6h6.8" stroke-width="1.4"/>
</svg>
<div style="position:absolute;left:16.5px;top:436px;font-size:8.3px;line-height:10px;font-weight:bold;color:#7a7a7a;letter-spacing:0.22px;white-space:nowrap">@StatistaCharts</div>
<div style="position:absolute;left:95px;top:422.8px;font-size:11.7px;line-height:12px;color:#555;white-space:nowrap;transform-origin:0 0;transform:scaleX(0.875)">Source:</div>
<div style="position:absolute;left:95px;top:435.6px;font-size:11.7px;line-height:12px;color:#555;white-space:nowrap;transform-origin:0 0;transform:scaleX(0.875)">EF EPI English Proficiency Index</div>
<div class="i100" style="left:349.2px;color:#e8212b;transform:scaleX(1.15)">i</div><div class="i100" style="left:356.2px;-webkit-text-stroke-width:1.6px">100</div>
<div style="position:absolute;left:425.8px;top:428.6px;font-size:7.4px;line-height:8px;color:#5a5a5a;white-space:nowrap;letter-spacing:0.1px">from</div>
<div id="the" style="position:absolute;left:426.2px;top:434.1px;font-family:'Liberation Serif',serif;font-size:11.2px;line-height:12px;color:#eee;white-space:nowrap;transform-origin:0 0;transform:scaleX(0.9)">The</div>
<svg style="position:absolute;left:441.4px;top:435.9px" width="9.6" height="8.8" viewBox="0 0 10 9.2"><path d="M5 0.1C8.2 0.1 9.9 1.8 9.9 4.6S8.2 9.1 5 9.1 0.1 7.4 0.1 4.6 1.8 0.1 5 0.1z" fill="#e8212b"/><path d="M1.6 1.6l2.4 1.7L5 1.4l1 1.9 2.4-1.7L6.8 4.8 5.7 5l0.3 2.8H4L4.3 5 3.2 4.8z" fill="#fff"/></svg>
<div id="indep" style="position:absolute;left:452.4px;top:434.8px;font-family:'Liberation Serif',serif;font-size:10px;line-height:12px;color:#eee;white-space:nowrap;transform-origin:0 0;transform:scaleX(0.97)">INDEPENDENT</div>
<div class="statista">statista</div>
<svg style="position:absolute;left:605.8px;top:426.8px" width="17.4" height="17.9" viewBox="0 0 17.4 17.9"><rect width="17.4" height="17.9" fill="#fff"/><path d="M0 11.7 C3.6 11.7 5.6 10.6 7.4 7.6 C9.4 4.2 11.4 2.3 17.4 2.3 L17.4 5.7 C13.4 5.7 11.8 7 10 10.2 C8 13.8 5.4 15 0 15 Z" fill="#000"/></svg>

</div></body></html>
